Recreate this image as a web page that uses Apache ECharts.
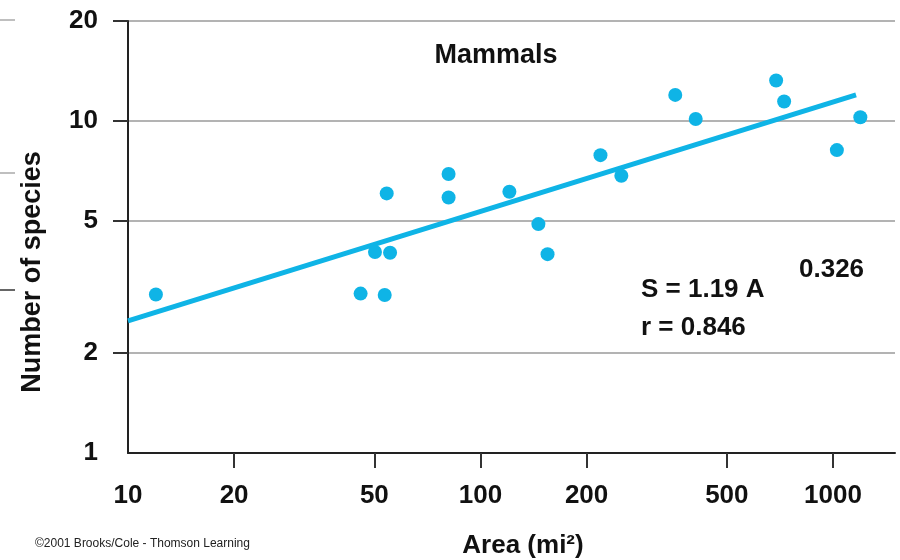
<!DOCTYPE html>
<html lang="en">
<head>
<meta charset="UTF-8">
<title>Mammals – species–area</title>
<script src="https://cdn.jsdelivr.net/npm/echarts@6/dist/echarts.min.js"></script>
<style>
html, body { margin: 0; padding: 0; background: #fff; }
#chart { width: 900px; height: 560px; }
</style>
</head>
<body>
<div id="chart"></div>
<script>
// island area (mi^2) and number of mammal species
const areaX = [12, 45.7, 53.5, 50.2, 55.4, 54.2, 81.2, 81.2, 120.8, 146, 155, 219, 251, 357, 408, 690, 727, 1026, 1196];
const speciesY = [3.0, 3.02, 2.99, 4.03, 4.01, 6.05, 6.92, 5.88, 6.12, 4.89, 3.97, 7.89, 6.84, 11.98, 10.14, 13.24, 11.44, 8.17, 10.26];

// fitted line S = 1.19 A^0.326, end points
const fitX = [10, 1163];
const fitY = [2.5, 11.98];

const xTicks = [10, 20, 50, 100, 200, 500, 1000];
const yTicks = [1, 2, 5, 10, 20];

const cyan = '#0fb4e6';
const font = 'Liberation Sans, Arial, sans-serif';

const chart = echarts.init(document.getElementById('chart'));

const option = {
animation: false,
grid: {
left: 128,
right: 5,
top: 21,
bottom: 107,
outerBoundsMode: 'none'
},
xAxis: {
type: 'log',
logBase: 10,
min: 10,
max: 1500,
axisLine: { lineStyle: { color: '#222', width: 2 } },
axisTick: {
customValues: xTicks.slice(1),
length: 15,
lineStyle: { color: '#333', width: 2 }
},
axisLabel: {
customValues: xTicks,
formatter: v => String(v),
margin: 30,
fontFamily: font,
fontWeight: 'bold',
fontSize: 26,
color: '#111'
},
splitLine: { show: false }
},
yAxis: {
type: 'log',
logBase: 10,
min: 1,
max: 20,
axisLine: { show: true, lineStyle: { color: '#222', width: 2 } },
axisTick: {
show: true,
customValues: yTicks.slice(1),
length: 15,
lineStyle: { color: '#333', width: 2 }
},
axisLabel: {
customValues: yTicks,
formatter: v => String(v),
margin: 30,
padding: [6, 0, 0, 0],
fontFamily: font,
fontWeight: 'bold',
fontSize: 26,
color: '#111'
},
splitLine: { show: true, lineStyle: { color: '#9a9a9a', width: 1.5 } }
},
series: [{
name: 'Fit',
type: 'line',
data: fitX.map((x, i) => [x, fitY[i]]),
symbol: 'none',
lineStyle: { color: cyan, width: 5 },
z: 2
}, {
name: 'Mammals',
type: 'scatter',
data: areaX.map((x, i) => [x, speciesY[i]]),
symbolSize: 14,
itemStyle: { color: cyan, opacity: 1 },
z: 3
}],
graphic: [
{ type: 'text', x: 496, y: 56, style: { text: 'Mammals', font: 'bold 27px ' + font, fill: '#111', textAlign: 'center', textVerticalAlign: 'middle' } },
{ type: 'text', x: 641, y: 290, style: { text: 'S = 1.19 A', font: 'bold 26px ' + font, fill: '#111', textAlign: 'left', textVerticalAlign: 'middle' } },
{ type: 'text', x: 799, y: 270, style: { text: '0.326', font: 'bold 26px ' + font, fill: '#111', textAlign: 'left', textVerticalAlign: 'middle' } },
{ type: 'text', x: 641, y: 328, style: { text: 'r = 0.846', font: 'bold 26px ' + font, fill: '#111', textAlign: 'left', textVerticalAlign: 'middle' } },
{ type: 'text', x: 523, y: 546, style: { text: 'Area (mi²)', font: 'bold 26px ' + font, fill: '#111', textAlign: 'center', textVerticalAlign: 'middle' } },
{ type: 'text', x: 33, y: 272, rotation: Math.PI / 2, style: { text: 'Number of species', font: 'bold 27px ' + font, fill: '#111', textAlign: 'center', textVerticalAlign: 'middle' } },
{ type: 'text', x: 35, y: 544, style: { text: '©2001 Brooks/Cole - Thomson Learning', font: '12px ' + font, fill: '#222', textAlign: 'left', textVerticalAlign: 'middle' } },
// scan edge marks on the left
{ type: 'line', shape: { x1: 0, y1: 20, x2: 15, y2: 20 }, style: { stroke: '#aaa', lineWidth: 1.5 } },
{ type: 'line', shape: { x1: 0, y1: 173, x2: 15, y2: 173 }, style: { stroke: '#aaa', lineWidth: 1.5 } },
{ type: 'line', shape: { x1: 0, y1: 290, x2: 15, y2: 290 }, style: { stroke: '#333', lineWidth: 1.5 } }
]
};

chart.setOption(option);
window.addEventListener('resize', () => {
chart.resize();
});
</script>
</body>
</html>
